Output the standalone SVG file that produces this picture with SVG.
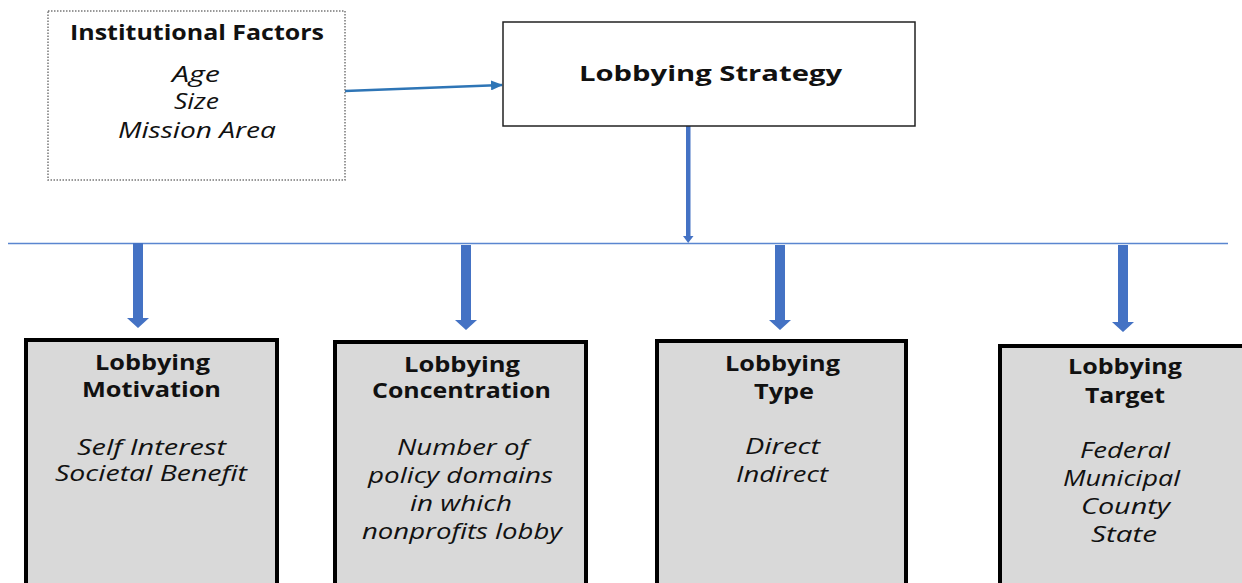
<svg xmlns="http://www.w3.org/2000/svg" width="1242" height="583" viewBox="0 0 1242 583">
<style>
.b{font-family:"Open Sans","Liberation Sans",sans-serif;font-weight:bold;fill:#111;text-anchor:middle;font-size:21px}
.i{font-family:"Open Sans","Liberation Sans",sans-serif;font-style:italic;fill:#111;text-anchor:middle;font-size:21px}
.gbox{fill:#d9d9d9;stroke:#000;stroke-width:4}
.blk{fill:#4472c4}
</style>
<defs>
<marker id="ah" markerWidth="12" markerHeight="10" refX="11" refY="5" orient="auto" markerUnits="userSpaceOnUse">
<path d="M0,0 L12,5 L0,10 Z" fill="#2e75b6"/>
</marker>
</defs>
<rect width="1242" height="583" fill="#fff"/>
<g id="connectors">
<line x1="345" y1="91" x2="502" y2="85" stroke="#2e75b6" stroke-width="2.5" marker-end="url(#ah)"/>
<rect x="686" y="126" width="4.5" height="110" class="blk"/>
<path d="M683,236 L693.5,236 L688.2,243 Z" class="blk"/>
<line x1="8" y1="243.5" x2="1228" y2="243.5" stroke="#5a86d0" stroke-width="1.6"/>
<path d="M133,243 h10 v75 h6 l-11,10 l-11,-10 h6 Z" class="blk"/>
<path d="M461,245 h10 v75 h6 l-11,10 l-11,-10 h6 Z" class="blk"/>
<path d="M775,245 h10 v75 h6 l-11,10 l-11,-10 h6 Z" class="blk"/>
<path d="M1118,245 h10 v77 h6 l-11,10 l-11,-10 h6 Z" class="blk"/>
</g>
<g id="institutional">
<rect x="48" y="11" width="297" height="169" fill="#fff" stroke="#777" stroke-width="1.5" stroke-dasharray="1.5,1.5"/>
<text x="197" y="40" class="b" textLength="254" lengthAdjust="spacingAndGlyphs">Institutional Factors</text>
<text x="196" y="82" class="i" textLength="48" lengthAdjust="spacingAndGlyphs">Age</text>
<text x="196.5" y="109" class="i" textLength="45" lengthAdjust="spacingAndGlyphs">Size</text>
<text x="197" y="138" class="i" textLength="158" lengthAdjust="spacingAndGlyphs">Mission Area</text>
</g>
<g id="strategy">
<rect x="503" y="22" width="412" height="104" fill="#fff" stroke="#222" stroke-width="1.5"/>
<text x="710.5" y="81" class="b" font-size="23" textLength="263" lengthAdjust="spacingAndGlyphs">Lobbying Strategy</text>
</g>
<g id="motivation">
<rect x="26" y="340" width="251" height="250" class="gbox"/>
<text x="152.5" y="370" class="b" textLength="115" lengthAdjust="spacingAndGlyphs">Lobbying</text>
<text x="151.5" y="397" class="b" textLength="139" lengthAdjust="spacingAndGlyphs">Motivation</text>
<text x="151.5" y="455" class="i" textLength="149" lengthAdjust="spacingAndGlyphs">Self Interest</text>
<text x="151" y="481" class="i" textLength="192" lengthAdjust="spacingAndGlyphs">Societal Benefit</text>
</g>
<g id="concentration">
<rect x="335" y="342" width="251" height="250" class="gbox"/>
<text x="462" y="372" class="b" textLength="116" lengthAdjust="spacingAndGlyphs">Lobbying</text>
<text x="461.5" y="398" class="b" textLength="179" lengthAdjust="spacingAndGlyphs">Concentration</text>
<text x="462.5" y="455" class="i" textLength="131" lengthAdjust="spacingAndGlyphs">Number of</text>
<text x="460.5" y="483" class="i" textLength="185" lengthAdjust="spacingAndGlyphs">policy domains</text>
<text x="461" y="511" class="i" textLength="102" lengthAdjust="spacingAndGlyphs">in which</text>
<text x="462" y="539" class="i" textLength="200" lengthAdjust="spacingAndGlyphs">nonprofits lobby</text>
</g>
<g id="type">
<rect x="657" y="341" width="249" height="250" class="gbox"/>
<text x="782.5" y="371" class="b" textLength="115" lengthAdjust="spacingAndGlyphs">Lobbying</text>
<text x="784" y="399" class="b" textLength="60" lengthAdjust="spacingAndGlyphs">Type</text>
<text x="782.5" y="454" class="i" textLength="75" lengthAdjust="spacingAndGlyphs">Direct</text>
<text x="782" y="482" class="i" textLength="92" lengthAdjust="spacingAndGlyphs">Indirect</text>
</g>
<g id="target">
<rect x="1000" y="346" width="250" height="250" class="gbox"/>
<text x="1125" y="374" class="b" textLength="114" lengthAdjust="spacingAndGlyphs">Lobbying</text>
<text x="1125" y="403" class="b" textLength="80" lengthAdjust="spacingAndGlyphs">Target</text>
<text x="1125" y="458" class="i" textLength="90" lengthAdjust="spacingAndGlyphs">Federal</text>
<text x="1121.5" y="486" class="i" textLength="117" lengthAdjust="spacingAndGlyphs">Municipal</text>
<text x="1125.5" y="514" class="i" textLength="89" lengthAdjust="spacingAndGlyphs">County</text>
<text x="1124" y="542" class="i" textLength="66" lengthAdjust="spacingAndGlyphs">State</text>
</g>
</svg>
